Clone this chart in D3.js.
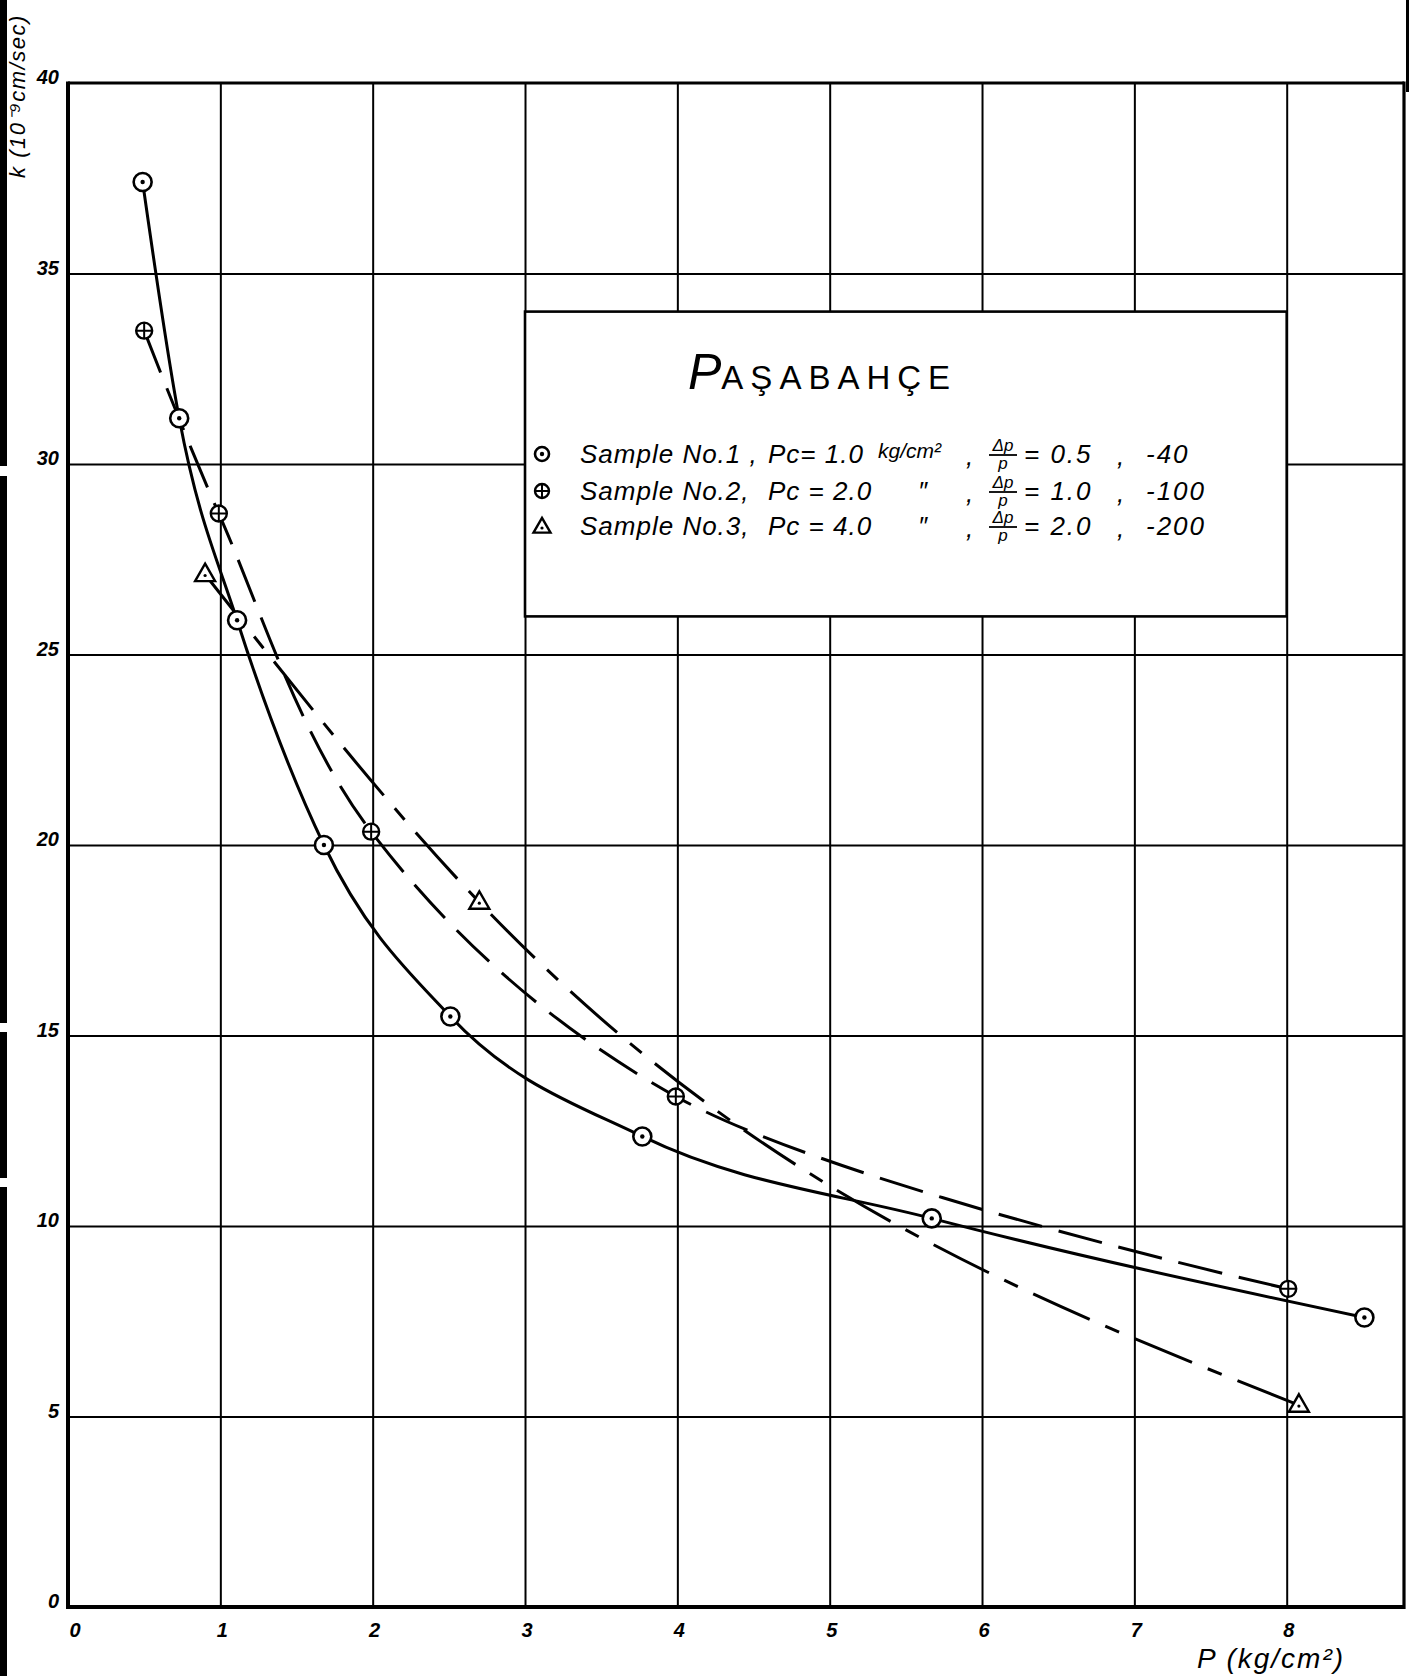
<!DOCTYPE html>
<html>
<head>
<meta charset="utf-8">
<script src="https://cdn.jsdelivr.net/npm/d3@7"></script>
<style>
  body { margin: 0; background: #fff; }
  svg text { font-family: "Liberation Sans", Arial, sans-serif; fill: #000; }
</style>
</head>
<body>
<svg id="chart" width="1409" height="1676"></svg>
<script>
// Consolidation pressure P (kg/cm²) against permeability k (10^-9 cm/sec)
const sample1P = [0.49, 0.73, 1.11, 1.68, 2.51, 3.77, 5.67, 8.51];
const sample1K = [37.4, 31.2, 25.9, 20.0, 15.5, 12.35, 10.2, 7.6];

const sample2P = [0.50, 0.99, 1.99, 3.99, 8.01];
const sample2K = [33.5, 28.7, 20.35, 13.4, 8.35];

const sample3P = [0.90, 2.70, 8.08];
const sample3K = [27.1, 18.5, 5.3];

const xTickValues = [0, 1, 2, 3, 4, 5, 6, 7, 8];
const yTickValues = [0, 5, 10, 15, 20, 25, 30, 35, 40];

const chartTitle = "PAŞABAHÇE";
const sampleNames = ["Sample No.1 ,", "Sample No.2,", "Sample No.3,"];
const pcLabels = ["Pc= 1.0", "Pc = 2.0", "Pc = 4.0"];
const ratioValues = ["= 0.5", "= 1.0", "= 2.0"];
const loadLabels = ["-40", "-100", "-200"];

const svg = d3.select("#chart");
const W = 1409, H = 1676;

const x = d3.scaleLinear().domain([0, 8.77]).range([68, 1404]);
const y = d3.scaleLinear().domain([0, 40]).range([1607, 83]);
const plotTop = y(40), plotBottom = y(0), plotLeft = x(0), plotRight = x.range()[1];

// dark photocopy edge along the left margin
const edge = svg.append("g");
[[0, 466], [476, 1023], [1032, 1178], [1187, H]].forEach(([a, b]) => {
  edge.append("rect").attr("x", 0).attr("y", a).attr("width", 7).attr("height", b - a).attr("fill", "#000");
});
edge.append("rect").attr("x", 1406).attr("y", 0).attr("width", 3).attr("height", 92).attr("fill", "#000");

// grid lines, drawn by the axes with full-length ticks
const gridX = svg.append("g")
  .attr("transform", `translate(0,${plotBottom})`)
  .call(d3.axisBottom(x).tickValues(xTickValues.filter(v => v > 0)).tickSize(-(plotBottom - plotTop)).tickFormat(""));
const gridY = svg.append("g")
  .attr("transform", `translate(${plotLeft},0)`)
  .call(d3.axisLeft(y).tickValues(yTickValues.filter(v => v > 0 && v < 40)).tickSize(-(plotRight - plotLeft)).tickFormat(""));
[gridX, gridY].forEach(g => {
  g.select(".domain").remove();
  g.selectAll(".tick line").attr("stroke", "#000").attr("stroke-width", 2);
});

// plot frame
svg.append("line").attr("x1", plotLeft).attr("x2", plotRight).attr("y1", plotTop).attr("y2", plotTop)
  .attr("stroke", "#000").attr("stroke-width", 3.2);
svg.append("line").attr("x1", plotLeft).attr("x2", plotRight).attr("y1", plotBottom).attr("y2", plotBottom)
  .attr("stroke", "#000").attr("stroke-width", 4);
svg.append("line").attr("x1", plotLeft).attr("x2", plotLeft).attr("y1", plotTop - 1.5).attr("y2", plotBottom + 2)
  .attr("stroke", "#000").attr("stroke-width", 4);
svg.append("line").attr("x1", plotRight).attr("x2", plotRight).attr("y1", plotTop - 1.5).attr("y2", plotBottom + 2)
  .attr("stroke", "#000").attr("stroke-width", 3.2);

// tick labels
const tickFont = "bold italic 20px 'Liberation Sans', Arial, sans-serif";
svg.append("g").selectAll("text").data(yTickValues).join("text")
  .attr("x", 59).attr("y", d => y(d) - 4)
  .attr("text-anchor", "end").attr("dominant-baseline", "middle")
  .style("font", tickFont)
  .text(d => d);
svg.append("g").selectAll("text").data(xTickValues).join("text")
  .attr("x", d => x(d) + (d === 0 ? 7 : 2)).attr("y", 1632)
  .attr("text-anchor", "middle").attr("dominant-baseline", "middle")
  .style("font", tickFont)
  .text(d => d);

// axis titles
svg.append("text")
  .attr("transform", "translate(25,96) rotate(-90)")
  .attr("text-anchor", "middle")
  .style("font", "italic 22px 'Liberation Sans', Arial, sans-serif")
  .style("letter-spacing", "1.5px")
  .text("k (10⁻⁹cm/sec)");
svg.append("text")
  .attr("x", 1197).attr("y", 1668)
  .style("font", "italic 28px 'Liberation Sans', Arial, sans-serif")
  .style("letter-spacing", "2px")
  .text("P (kg/cm²)");

// curves
const zip = (px, ky) => px.map((p, i) => [p, ky[i]]);
const lineMono = d3.line().x(d => x(d[0])).y(d => y(d[1])).curve(d3.curveMonotoneX);
const lineCR = d3.line().x(d => x(d[0])).y(d => y(d[1])).curve(d3.curveCatmullRom.alpha(0.5));
const curves = [
  { data: zip(sample1P, sample1K), dash: null, gen: lineMono },
  { data: zip(sample2P, sample2K), dash: "45,17", gen: lineCR },
  { data: zip(sample3P, sample3K), dash: "62,17,15,17", gen: lineMono }
];
svg.append("g").selectAll("path").data(curves).join("path")
  .attr("d", d => d.gen(d.data))
  .attr("fill", "none").attr("stroke", "#000").attr("stroke-width", 3)
  .attr("stroke-dasharray", d => d.dash);

// marker symbols
function dotCircle(g, cx, cy, r) {
  g.append("circle").attr("cx", cx).attr("cy", cy).attr("r", r)
    .attr("fill", "#fff").attr("stroke", "#000").attr("stroke-width", 2.6);
  g.append("circle").attr("cx", cx).attr("cy", cy).attr("r", 2.2).attr("fill", "#000");
}
function crossCircle(g, cx, cy, r) {
  g.append("circle").attr("cx", cx).attr("cy", cy).attr("r", r)
    .attr("fill", "#fff").attr("stroke", "#000").attr("stroke-width", 2.4);
  g.append("path").attr("d", `M${cx - r},${cy}H${cx + r}M${cx},${cy - r}V${cy + r}`)
    .attr("stroke", "#000").attr("stroke-width", 2);
}
function triangle(g, cx, cy, s) {
  const h = s * 0.87;
  g.append("path")
    .attr("d", `M${cx},${cy - h * 0.62}L${cx + s / 2},${cy + h * 0.38}L${cx - s / 2},${cy + h * 0.38}Z`)
    .attr("fill", "#fff").attr("stroke", "#000").attr("stroke-width", 2.4);
  g.append("circle").attr("cx", cx).attr("cy", cy + 1).attr("r", 1.6).attr("fill", "#000");
}

const marks = svg.append("g");
zip(sample1P, sample1K).forEach(d => dotCircle(marks, x(d[0]), y(d[1]), 9));
zip(sample2P, sample2K).forEach(d => crossCircle(marks, x(d[0]), y(d[1]), 8));
zip(sample3P, sample3K).forEach(d => triangle(marks, x(d[0]), y(d[1]), 20));

// legend panel
const lg = svg.append("g");
lg.append("rect")
  .attr("x", x(3)).attr("y", y(34)).attr("width", x(8) - x(3)).attr("height", y(26) - y(34))
  .attr("fill", "#fff").attr("stroke", "#000").attr("stroke-width", 2.6);

const title = lg.append("text").attr("x", 688).attr("y", 389)
  .style("font-family", "'Liberation Sans', Arial, sans-serif");
title.append("tspan").style("font-size", "50px").style("font-style", "italic").text(chartTitle[0]);
title.append("tspan").style("font-size", "33px").style("letter-spacing", "7px").text(chartTitle.slice(1));

const rowY = [463, 500, 535];
const legendFont = "italic 26px 'Liberation Sans', Arial, sans-serif";
const fracFont = "italic 17px 'Liberation Sans', Arial, sans-serif";
rowY.forEach((ry, i) => {
  if (i === 0) dotCircle(lg, 542, ry - 9, 7);
  if (i === 1) crossCircle(lg, 542, ry - 9, 7);
  if (i === 2) triangle(lg, 542, ry - 8, 17);

  lg.append("text").attr("x", 580).attr("y", ry).style("font", legendFont)
    .style("letter-spacing", "1px").text(sampleNames[i]);
  lg.append("text").attr("x", 768).attr("y", ry).style("font", legendFont)
    .style("letter-spacing", "1px").text(pcLabels[i]);
  if (i === 0) {
    lg.append("text").attr("x", 878).attr("y", ry - 5)
      .style("font", "italic 21px 'Liberation Sans', Arial, sans-serif").text("kg/cm²");
  } else {
    lg.append("text").attr("x", 918).attr("y", ry).style("font", legendFont).text("″");
  }
  lg.append("text").attr("x", 966).attr("y", ry + 2).style("font", legendFont).text(",");
  // Δp / p fraction
  const fx = 1003;
  lg.append("text").attr("x", fx).attr("y", ry - 12).attr("text-anchor", "middle")
    .style("font", fracFont).text("Δp");
  lg.append("line").attr("x1", fx - 14).attr("x2", fx + 14).attr("y1", ry - 8).attr("y2", ry - 8)
    .attr("stroke", "#000").attr("stroke-width", 1.8);
  lg.append("text").attr("x", fx).attr("y", ry + 6).attr("text-anchor", "middle")
    .style("font", fracFont).text("p");
  lg.append("text").attr("x", 1024).attr("y", ry).style("font", legendFont)
    .style("letter-spacing", "2px").text(ratioValues[i]);
  lg.append("text").attr("x", 1117).attr("y", ry + 2).style("font", legendFont).text(",");
  lg.append("text").attr("x", 1146).attr("y", ry).style("font", legendFont)
    .style("letter-spacing", "2px").text(loadLabels[i]);
});
</script>
</body>
</html>
